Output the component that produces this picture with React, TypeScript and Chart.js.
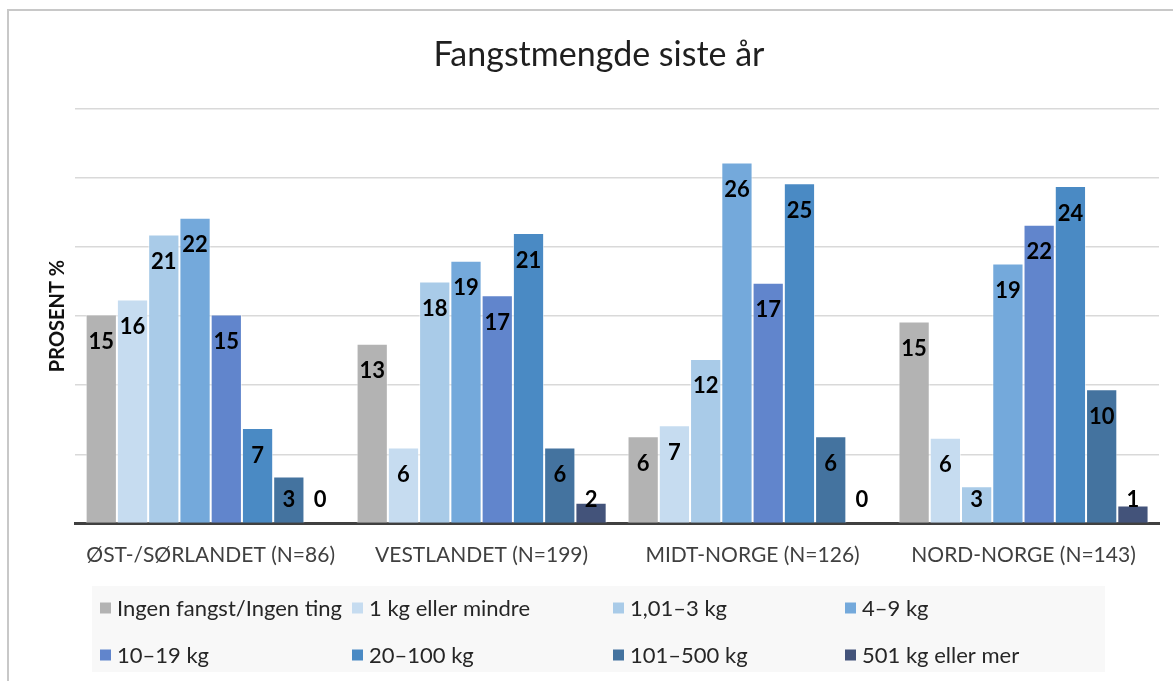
import { useEffect, useRef } from 'react';
import { Chart, registerables } from 'chart.js';

Chart.register(...registerables);

const regions = ['ØST-/SØRLANDET (N=86)', 'VESTLANDET (N=199)', 'MIDT-NORGE (N=126)', 'NORD-NORGE (N=143)'];
const seriesNames = [
  'Ingen fangst/Ingen ting',
  '1 kg eller mindre',
  '1,01–3 kg',
  '4–9 kg',
  '10–19 kg',
  '20–100 kg',
  '101–500 kg',
  '501 kg eller mer',
];
const seriesColors = ['#B3B3B3', '#C6DCF0', '#A9CBE8', '#74A9DB', '#6185CC', '#4A8AC4', '#44739F', '#43537A'];

const ingenFangst = [15.1, 13.0, 6.3, 14.6];
const kgUnder1 = [16.2, 5.5, 7.1, 6.2];
const kg1to3 = [20.9, 17.5, 11.9, 2.7];
const kg4to9 = [22.1, 19.0, 26.1, 18.8];
const kg10to19 = [15.1, 16.5, 17.4, 21.6];
const kg20to100 = [6.9, 21.0, 24.6, 24.4];
const kg101to500 = [3.4, 5.5, 6.3, 9.7];
const kgOver500 = [0, 1.5, 0, 1.3];

const seriesValues = [ingenFangst, kgUnder1, kg1to3, kg4to9, kg10to19, kg20to100, kg101to500, kgOver500];

const FONT = 'Lato';

const valueLabels = {
  id: 'valueLabels',
  afterDatasetsDraw(chart: any) {
    const { ctx, chartArea } = chart;
    ctx.save();
    ctx.font = `bold 22px ${FONT}`;
    ctx.fillStyle = '#000000';
    ctx.textAlign = 'center';
    ctx.textBaseline = 'middle';
    chart.data.datasets.forEach((ds: any, di: number) => {
      const meta = chart.getDatasetMeta(di);
      meta.data.forEach((bar: any, i: number) => {
        const v = ds.data[i];
        const y = Math.min(bar.y + 27.5, chartArea.bottom - 23.5);
        ctx.fillText(String(Math.round(v)), bar.x, y);
      });
    });
    ctx.restore();
  },
};

const customLegend = {
  id: 'customLegend',
  afterDraw(chart: any) {
    const { ctx } = chart;
    const colX = [91, 343, 604, 836];
    const rowY = [597, 644];
    ctx.save();
    ctx.fillStyle = '#F8F8F8';
    ctx.fillRect(83, 575, 1013, 86);
    ctx.font = `22px ${FONT}`;
    ctx.textBaseline = 'middle';
    ctx.textAlign = 'left';
    chart.data.datasets.forEach((ds: any, i: number) => {
      const x = colX[i % 4];
      const y = rowY[Math.floor(i / 4)];
      ctx.fillStyle = ds.backgroundColor;
      ctx.fillRect(x, y - 5.5, 11, 11);
      ctx.fillStyle = '#262626';
      ctx.fillText(ds.label, x + 17, y + 1);
    });
    ctx.restore();
  },
};

export default function App() {
  const ref = useRef<HTMLCanvasElement | null>(null);
  useEffect(() => {
    if (!ref.current) return;
    const chart = new Chart(ref.current, {
      type: 'bar',
      data: {
        labels: regions,
        datasets: seriesNames.map((name, i) => ({
          label: name,
          data: seriesValues[i],
          backgroundColor: seriesColors[i],
          borderColor: 'rgba(255,255,255,0.55)',
          borderWidth: 1,
          categoryPercentage: 0.923,
          barPercentage: 1,
        })),
      },
      options: {
        animation: false,
        responsive: false,
        maintainAspectRatio: false,
        layout: { padding: 0 },
        plugins: {
          legend: { display: false },
          tooltip: { enabled: false },
          title: {
            display: true,
            text: 'Fangstmengde siste år',
            color: '#1F1F1F',
            font: { family: FONT, size: 34, weight: 'normal' },
            padding: { top: 23.6, bottom: 33.1 },
          },
        },
        scales: {
          x: {
            grid: { display: false, drawTicks: false },
            border: { display: true, color: '#404040', width: 3 },
            ticks: { color: '#404040', font: { family: FONT, size: 21 }, padding: 19, maxRotation: 0 },
            afterFit: (axis: any) => {
              axis.height = 157.5;
            },
          },
          y: {
            min: 0,
            max: 30,
            ticks: { display: false, stepSize: 5 },
            grid: { color: '#D9D9D9', lineWidth: 1.5, drawTicks: false },
            border: { display: false },
            title: {
              display: true,
              text: 'PROSENT %',
              color: '#111111',
              font: { family: FONT, size: 20, weight: 'bold' },
              padding: { top: 37, bottom: 0 },
            },
            afterFit: (axis: any) => {
              axis.width = 66.2;
            },
          },
          yRight: {
            position: 'right',
            min: 0,
            max: 30,
            ticks: { display: false },
            grid: { display: false, drawTicks: false },
            border: { display: false },
            afterFit: (axis: any) => {
              axis.width = 30;
            },
          },
        },
      },
      plugins: [valueLabels, customLegend],
    });
    return () => chart.destroy();
  }, []);

  return (
    <div style={{ position: 'fixed', left: 0, top: 0, width: 1173, height: 681, overflow: 'hidden', background: '#fff' }}>
      <div
        style={{
          position: 'absolute',
          left: 7,
          top: 9,
          width: 1200,
          height: 700,
          border: '2px solid #C8C8C8',
          boxSizing: 'border-box',
        }}
      >
        <canvas ref={ref} width={1180} height={670} style={{ position: 'absolute', left: 0, top: 0, width: 1180, height: 670 }} />
      </div>
    </div>
  );
}
